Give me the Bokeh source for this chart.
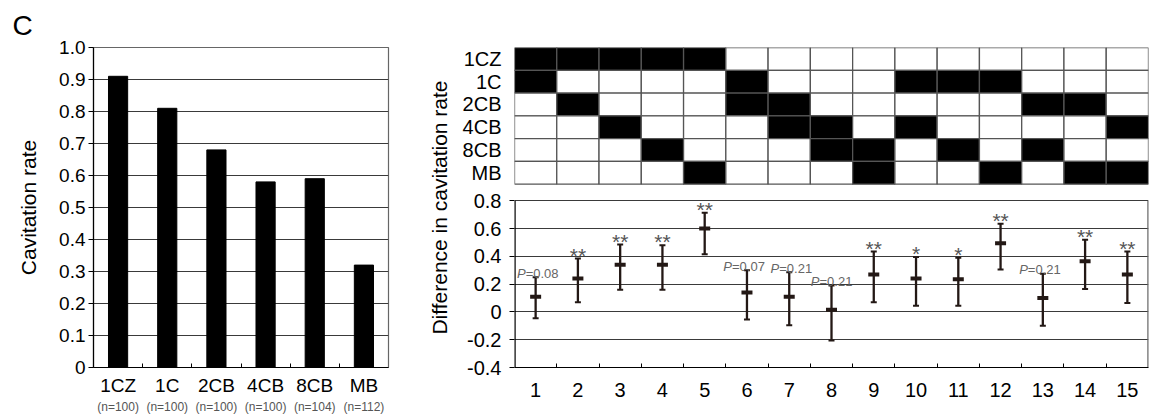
from bokeh.plotting import figure
from bokeh.models import (FixedTicker, LinearAxis, Range1d, Title)
from bokeh.layouts import row
from bokeh.embed import file_html
from bokeh.resources import INLINE
from bokeh.core.properties import value

# ---------------- data ----------------
groups = ["1CZ", "1C", "2CB", "4CB", "8CB", "MB"]
group_n = [100, 100, 100, 100, 104, 112]
cav_rate = [0.91, 0.81, 0.68, 0.58, 0.59, 0.32]

comparisons = list(range(1, 16))
pair_a = ["1CZ", "1CZ", "1CZ", "1CZ", "1CZ", "1C", "2CB", "4CB", "8CB",
          "1C", "1C", "1C", "2CB", "2CB", "4CB"]
pair_b = ["1C", "2CB", "4CB", "8CB", "MB", "2CB", "4CB", "8CB", "MB",
          "4CB", "8CB", "MB", "8CB", "MB", "MB"]
diff_mean = [0.11, 0.24, 0.34, 0.34, 0.60, 0.14, 0.11, 0.015, 0.27, 0.24,
             0.235, 0.495, 0.10, 0.365, 0.27]
diff_upper = [0.25, 0.385, 0.485, 0.48, 0.715, 0.30, 0.285, 0.19, 0.435,
              0.395, 0.39, 0.635, 0.275, 0.52, 0.435]
diff_lower = [-0.045, 0.07, 0.16, 0.16, 0.415, -0.055, -0.095, -0.205, 0.07,
              0.045, 0.045, 0.305, -0.10, 0.165, 0.065]
significance = ["P=0.08", "**", "**", "**", "**", "P=0.07", "P=0.21",
                "P=0.21", "**", "*", "*", "**", "P=0.21", "**", "**"]

y_ticks_left = [0, 0.1, 0.2, 0.3, 0.4, 0.5, 0.6, 0.7, 0.8, 0.9, 1.0]
y_ticks_diff = [-0.4, -0.2, 0, 0.2, 0.4, 0.6, 0.8]
y_labels_diff = ["-0.4", "-0.2", "0", "0.2", "0.4", "0.6", "0.8"]

panel_letter = "C"
left_title = "Cavitation rate"
diff_title = "Difference in cavitation rate"

FONT = "Liberation Sans"
INK = "#231815"
GRID = "#3a3a3a"
FRAME = "#666666"
CELL_LINE = "#555555"

# layout of the right panel: the comparison matrix sits above the
# difference chart inside one frame (range above 0.8 holds the matrix)
Y_TOP = 1.904
MAT_BOTTOM = 0.92
# small horizontal nudges (px) of some P-value labels, as in the figure
P_NUDGE = {1: 2, 6: -3, 7: 2, 13: -3}


def style_axis(ax, size="19px"):
    ax.major_label_text_font = FONT
    ax.major_label_text_font_size = size
    ax.major_label_text_color = "black"
    ax.axis_label_text_font = FONT
    ax.axis_label_text_font_style = "normal"
    ax.axis_label_text_font_size = "21px"
    ax.axis_label_text_color = "black"
    ax.axis_line_color = "black"
    ax.axis_line_width = 1.2


# ---------------- left bar chart ----------------
xs = list(range(1, len(groups) + 1))
p1 = figure(width=415, height=416, x_range=Range1d(0.5, 6.5),
            y_range=Range1d(0, 1.0), output_backend="svg",
            toolbar_location=None, min_border_left=93, min_border_right=27,
            min_border_top=45, min_border_bottom=0)
p1.title.text = panel_letter
p1.title.text_font = FONT
p1.title.text_font_size = "28px"
p1.title.text_font_style = "normal"
p1.title.text_color = "black"
p1.title.align = "left"
p1.title.offset = -81
p1.title.standoff = 14

p1.vbar(x=xs, top=cav_rate, width=0.39, fill_color="black",
        line_color="black")
p1.xgrid.visible = False
p1.ygrid.ticker = FixedTicker(ticks=y_ticks_left)
p1.ygrid.grid_line_color = GRID
p1.ygrid.grid_line_width = 1
p1.outline_line_color = FRAME
p1.outline_line_width = 1.2

ya = p1.yaxis[0]
style_axis(ya)
ya.ticker = FixedTicker(ticks=y_ticks_left)
ya.major_label_overrides = {0: "0", 1: "1.0"}
ya.major_tick_in = 0
ya.major_tick_out = 5
ya.major_label_standoff = 3
ya.axis_label = left_title
ya.axis_label_standoff = 16
ya.minor_tick_line_color = None

xa = p1.xaxis[0]
style_axis(xa)
xa.ticker = FixedTicker(ticks=xs, minor_ticks=[x + 0.5 for x in xs[:-1]])
xa.major_label_overrides = {x: g for x, g in zip(xs, groups)}
xa.major_tick_in = 0
xa.major_tick_out = 0
xa.minor_tick_in = 4
xa.minor_tick_out = 0
xa.major_label_standoff = 7

xa2 = LinearAxis(ticker=FixedTicker(ticks=xs),
                 major_label_overrides={x: f"(n={n})" for x, n in zip(xs, group_n)})
xa2.axis_line_color = None
xa2.major_tick_line_color = None
xa2.minor_tick_line_color = None
xa2.major_tick_in = 0
xa2.major_tick_out = 0
xa2.major_label_text_font = FONT
xa2.major_label_text_font_size = "12px"
xa2.major_label_text_color = "#555555"
xa2.major_label_standoff = 1
p1.add_layout(xa2, "below")

# ---------------- right panel: matrix + difference chart ----------------
pr = figure(width=750, height=416, x_range=Range1d(0.5, 15.5),
            y_range=Range1d(-0.4, Y_TOP), output_backend="svg",
            toolbar_location=None, min_border_left=99, min_border_right=17,
            min_border_top=41, min_border_bottom=43)
pr.xgrid.visible = False
pr.ygrid.ticker = FixedTicker(ticks=y_ticks_diff)
pr.ygrid.grid_line_color = GRID
pr.ygrid.grid_line_width = 1
pr.outline_line_color = None

# matrix of compared groups
row_h = (Y_TOP - MAT_BOTTOM) / len(groups)
row_center = {g: Y_TOP - (i + 0.5) * row_h for i, g in enumerate(groups)}
cell_x, cell_y, cell_c = [], [], []
for c, a, b in zip(comparisons, pair_a, pair_b):
    for g in groups:
        cell_x.append(c)
        cell_y.append(row_center[g])
        cell_c.append("black" if g in (a, b) else "white")
pr.rect(x=cell_x, y=cell_y, width=1, height=row_h, fill_color=cell_c,
        line_color=CELL_LINE, line_width=1.3)

# frame of the difference chart (left and right borders)
x0, x1 = pr.x_range.start, pr.x_range.end
pr.segment(x0=[x0], y0=[y_ticks_diff[0]], x1=[x0], y1=[y_ticks_diff[-1]],
           line_color="black", line_width=2.4)
pr.segment(x0=[x1], y0=[y_ticks_diff[0]], x1=[x1], y1=[y_ticks_diff[-1]],
           line_color=FRAME, line_width=2.4)

# error bars
pr.segment(x0=comparisons, y0=diff_lower, x1=comparisons, y1=diff_upper,
           line_color=INK, line_width=2.3)
for ys in (diff_upper, diff_lower):
    pr.rect(x=comparisons, y=ys, width=6, height=2, width_units="screen",
            height_units="screen", fill_color=INK, line_color=None)
pr.rect(x=comparisons, y=diff_mean, width=11, height=4, width_units="screen",
        height_units="screen", fill_color=INK, line_color=None)

# significance annotations
star_x, star_y, star_t = [], [], []
p_x, p_y, p_t, p_dx = [], [], [], []
for c, up, s in zip(comparisons, diff_upper, significance):
    if s.startswith("P="):
        p_x.append(c)
        p_y.append(up + 0.03)
        p_t.append(s[1:])
        p_dx.append(P_NUDGE.get(c, 0) - 12)
    else:
        star_x.append(c)
        star_y.append(up + 0.025)
        star_t.append(s)

pr.text(x=star_x, y=star_y, text=star_t, text_font=value(FONT),
        text_font_size="21px", text_color="#555555", text_align="center",
        text_baseline="alphabetic")
pr.text(x=p_x, y=p_y, text=["P"] * len(p_x), text_font=value(FONT),
        text_font_size="13px", text_font_style="italic",
        text_color="#666666", text_align="right",
        text_baseline="alphabetic", x_offset=p_dx)
pr.text(x=p_x, y=p_y, text=p_t, text_font=value(FONT),
        text_font_size="13px", text_color="#666666", text_align="left",
        text_baseline="alphabetic", x_offset=p_dx)

# one left axis: numeric ticks of the chart and the matrix row names
ea = pr.yaxis[0]
style_axis(ea, "20px")
row_ticks = [row_center[g] for g in groups]
ea.ticker = FixedTicker(ticks=y_ticks_diff + row_ticks,
                        minor_ticks=y_ticks_diff)
overrides = {t: lab for t, lab in zip(y_ticks_diff, y_labels_diff)}
overrides.update({row_center[g]: g for g in groups})
ea.major_label_overrides = overrides
ea.axis_line_color = None
ea.major_tick_in = 0
ea.major_tick_out = 0
ea.minor_tick_in = 0
ea.minor_tick_out = 5
ea.minor_tick_line_color = "black"
ea.minor_tick_line_width = 1.2
ea.major_label_standoff = 8

t = Title(text=diff_title, align="center", text_font=FONT,
          text_font_size="21px", text_font_style="normal",
          text_color="black", standoff=17, offset=-8)
pr.add_layout(t, "left")

exa = pr.xaxis[0]
style_axis(exa, "20px")
exa.ticker = FixedTicker(ticks=comparisons,
                         minor_ticks=[c + 0.5 for c in comparisons[:-1]])
exa.major_tick_in = 0
exa.major_tick_out = 0
exa.minor_tick_in = 4
exa.minor_tick_out = 0
exa.major_label_standoff = 15

layout = row(p1, pr)
open("out.html", "w").write(file_html(layout, INLINE))
